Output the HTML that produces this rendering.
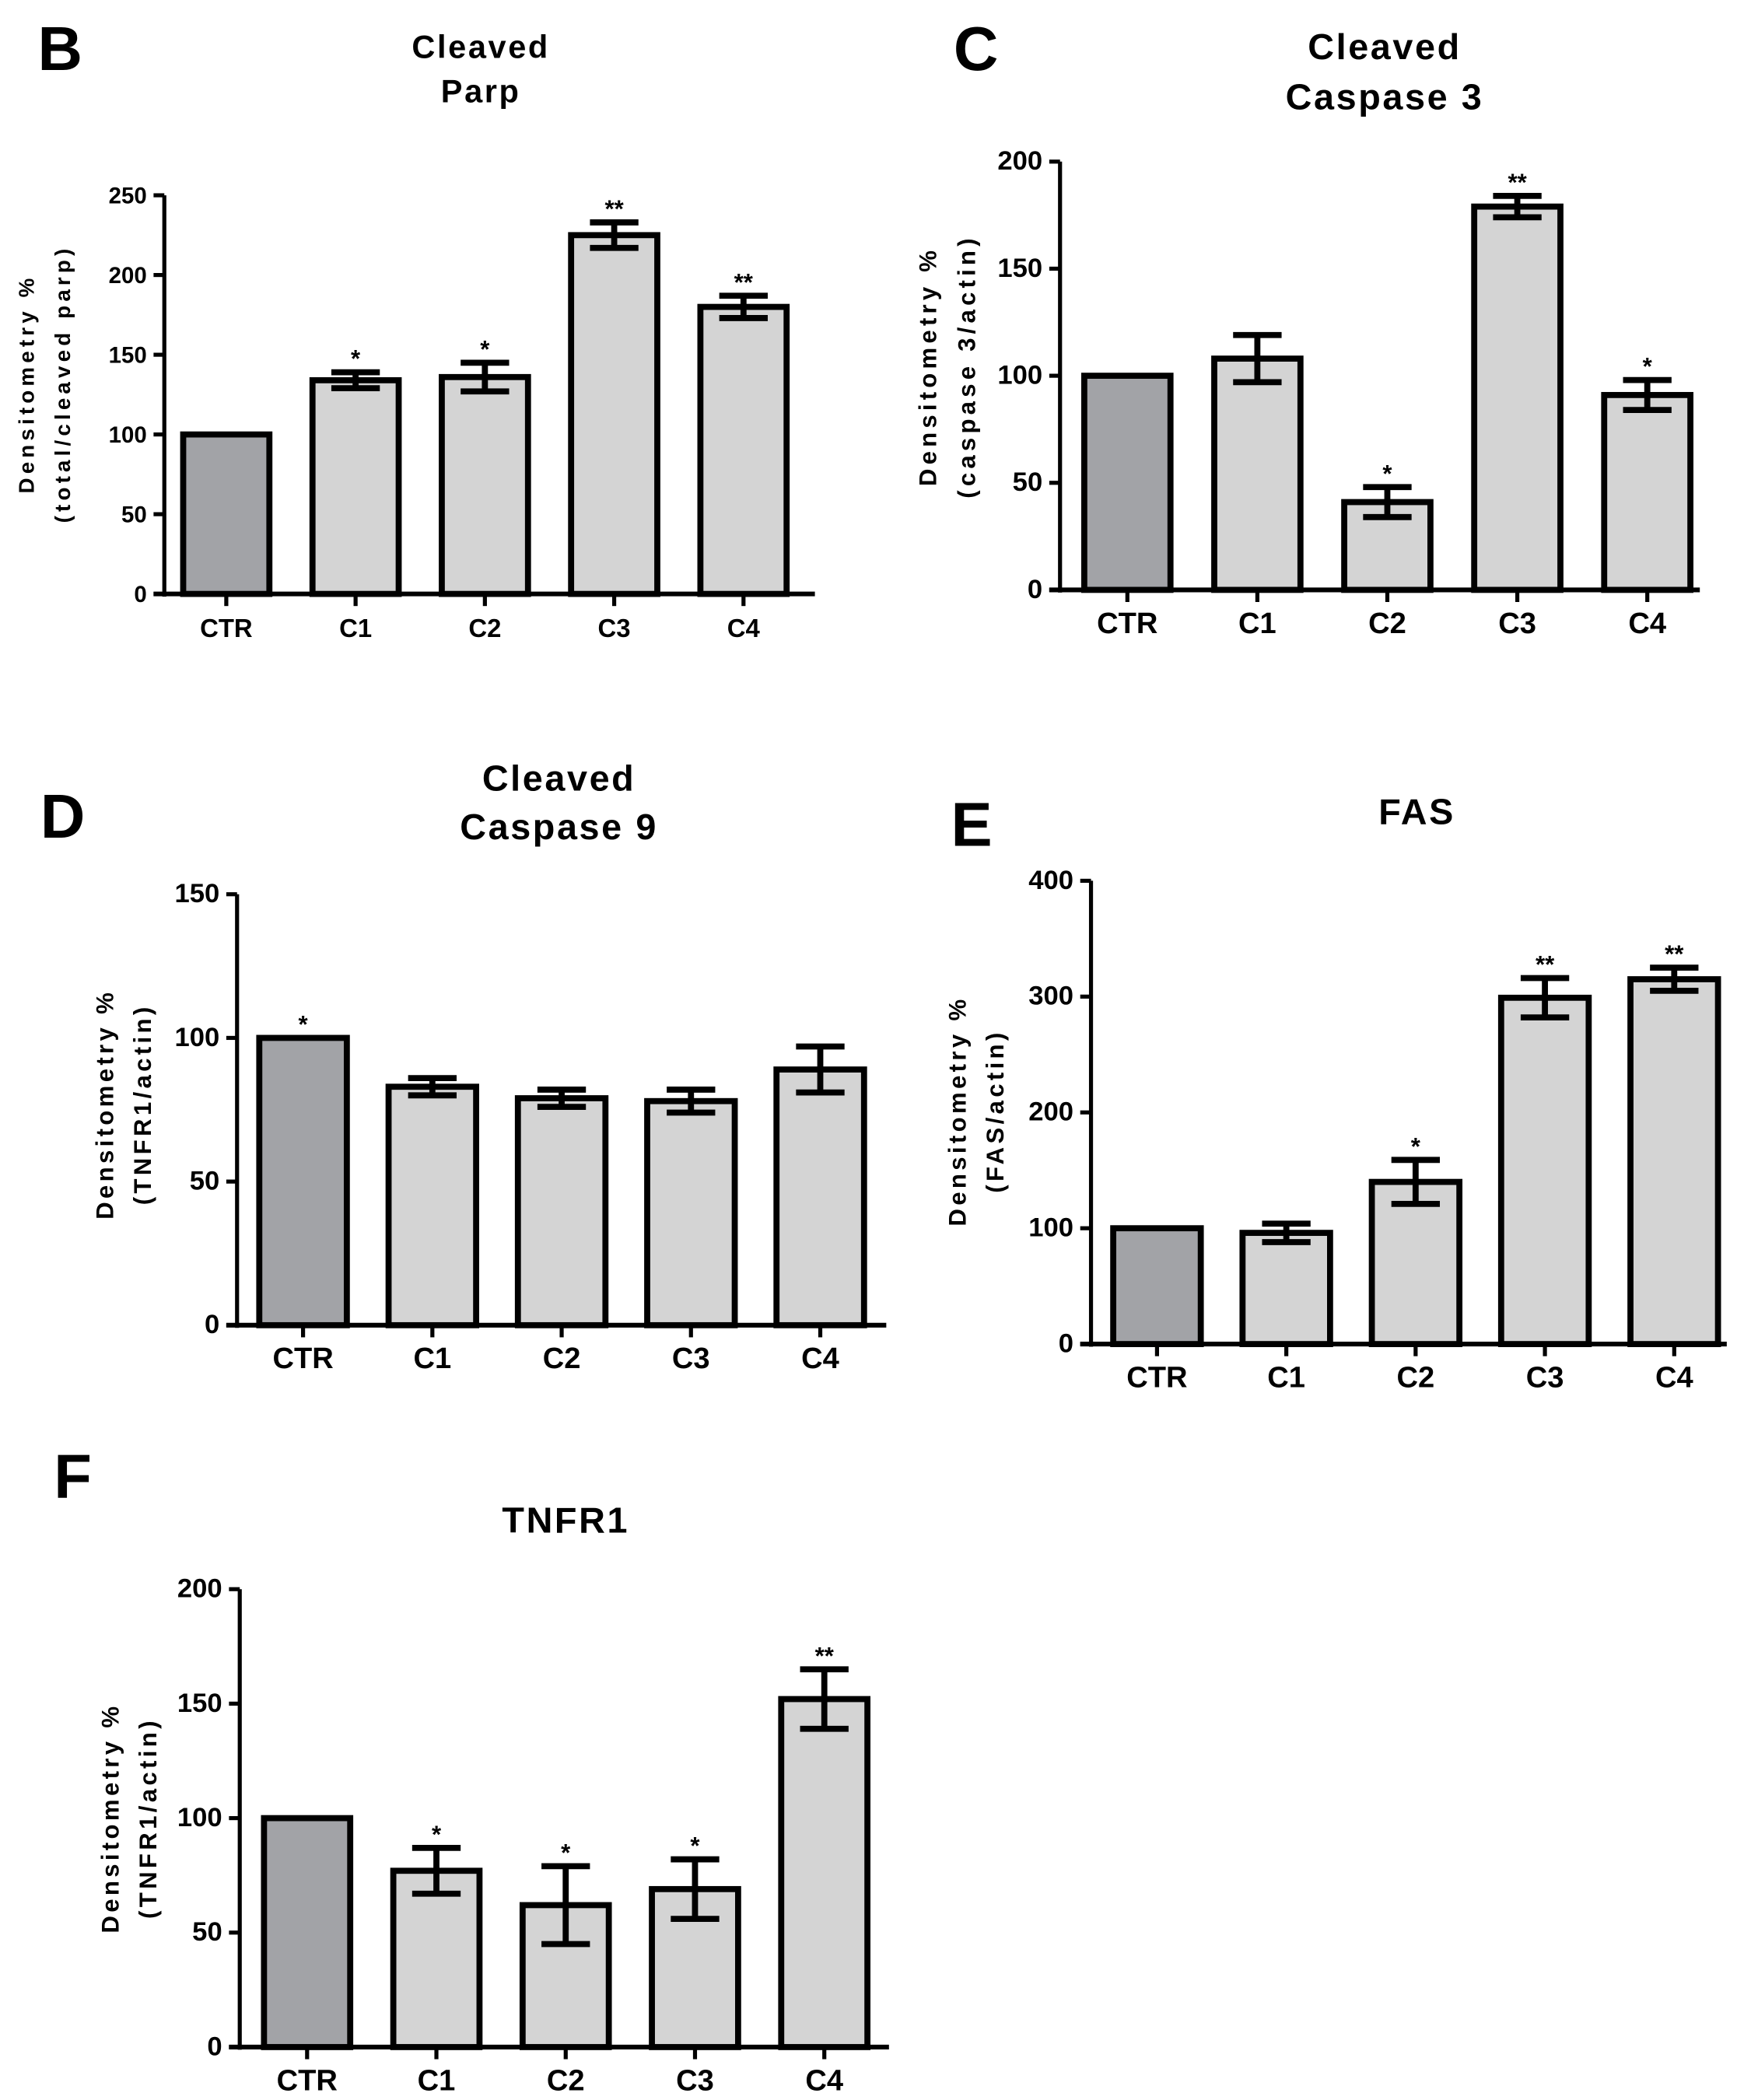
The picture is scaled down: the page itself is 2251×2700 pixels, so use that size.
<!DOCTYPE html>
<html><head><meta charset="utf-8"><style>
html,body{margin:0;padding:0;background:#fff;}
svg{display:block;}
text{font-family:"Liberation Sans",sans-serif;}
</style></head><body>
<svg id="fig" width="2251" height="2700" viewBox="0 0 1300 1559.3" preserveAspectRatio="none" xmlns="http://www.w3.org/2000/svg"></svg>
<script>
const categories = ["CTR","C1","C2","C3","C4"];
const parpValues = [100,134,136,225,180];
const parpErrors = [0,5,9,8,7];
const parpStars = ["","*","*","**","**"];
const parpTicks = [0,50,100,150,200,250];
const cas3Values = [100,108,41,179,91];
const cas3Errors = [0,11,7,5,7];
const cas3Stars = ["","","*","**","*"];
const cas3Ticks = [0,50,100,150,200];
const cas9Values = [100,83,79,78,89];
const cas9Errors = [0,3,3,4,8];
const cas9Stars = ["*","","","",""];
const cas9Ticks = [0,50,100,150];
const fasValues = [100,96,140,299,315];
const fasErrors = [0,8,19,17,10];
const fasStars = ["","","*","**","**"];
const fasTicks = [0,100,200,300,400];
const tnfValues = [100,77,62,69,152];
const tnfErrors = [0,10,17,13,13];
const tnfStars = ["","*","*","*","**"];
const tnfTicks = [0,50,100,150,200];

const NS="http://www.w3.org/2000/svg";
const svg=document.getElementById('fig');
function mk(tag,attrs,parent){const e=document.createElementNS(NS,tag);for(const k in attrs)e.setAttribute(k,attrs[k]);(parent||svg).appendChild(e);return e;}

function panel(p){
  const g=mk('g',{});
  
  
  const ymax=p.ticks[p.ticks.length-1];
  const yScale=v=>p.y0-(v/ymax)*(p.y0-p.yTop);
  const step=p.step;
  const xCenter=i=>p.ax+p.first+i*step;
  let t=mk('text',{x:p.lx,y:p.ly,'font-size':46,'font-weight':'bold'},g);t.textContent=p.letter;
  
  
  p.title.forEach((s,i)=>{const tt=mk('text',{x:p.tx,y:p.ty+i*p.tl,'font-size':p.tfs,'font-weight':'bold','text-anchor':'middle','letter-spacing':1.5},g);tt.textContent=s;
    
    });
  p.ytitle.forEach((s,i)=>{const xx=p.ytx[i];const tt=mk('text',{x:xx,y:p.yty,'font-size':p.ytfs,'font-weight':'bold','text-anchor':'middle','letter-spacing':p.yls,transform:`rotate(-90 ${xx} ${p.yty})`},g);tt.textContent=s;
    
    });
  categories.forEach((c,i)=>{
    const v=p.values[i],cx=xCenter(i),w=p.bw;
    const r=mk('rect',{x:cx-w/2,y:yScale(v),width:w,height:p.y0-yScale(v),fill:i==0?'#a2a3a7':'#d4d4d4',stroke:'#000','stroke-width':4.5},g);
    
    
    const e=p.errors[i];
    if(e>0){
      const eg=mk('g',{stroke:'#000','stroke-width':4.5},g);
      
      
      mk('line',{x1:cx,x2:cx,y1:yScale(v+e),y2:yScale(v-e)},eg);
      mk('line',{x1:cx-18,x2:cx+18,y1:yScale(v+e),y2:yScale(v+e)},eg);
      mk('line',{x1:cx-18,x2:cx+18,y1:yScale(v-e),y2:yScale(v-e)},eg);
    }
    if(p.stars[i]){const st=mk('text',{x:cx,y:yScale(v+e)-4,'font-size':18,'font-weight':'bold','text-anchor':'middle'},g);st.textContent=p.stars[i];
      
      }
    mk('line',{x1:cx,x2:cx,y1:p.y0,y2:p.y0+9,stroke:'#000','stroke-width':3},g);
    const xl=mk('text',{x:cx,y:p.y0+32,'font-size':p.xfs,'font-weight':'bold','text-anchor':'middle'},g);xl.textContent=c;
    
    
  });
  const ya=mk('line',{x1:p.ax,x2:p.ax,y1:p.yTop,y2:p.y0+2,stroke:'#000','stroke-width':3},g);
  
  
  const xa=mk('line',{x1:p.ax-8,x2:p.axEnd,y1:p.y0,y2:p.y0,stroke:'#000','stroke-width':3.5},g);
  
  
  p.ticks.forEach(v=>{const y=yScale(v);mk('line',{x1:p.ax-8,x2:p.ax,y1:y,y2:y,stroke:'#000','stroke-width':3},g);
    const tl=mk('text',{x:p.ax-13,y:y+6,'font-size':p.yfs,'font-weight':'bold','text-anchor':'end'},g);tl.textContent=v;
    
    });
}

panel({name:'panel-b-cleaved-parp',letter:'B',lx:28,ly:52,title:['Cleaved','Parp'],tx:357,ty:43,tl:33,tfs:24,
  ytitle:['Densitometry %','(total/cleaved parp)'],ytx:[25,52],yty:285,ytfs:16,yls:3,
  ax:122,axEnd:605,y0:441,yTop:145,first:46,step:96,bw:64,ticks:parpTicks,values:parpValues,errors:parpErrors,stars:parpStars,yfs:17,xfs:19});
panel({name:'panel-c-cleaved-caspase3',letter:'C',lx:708,ly:52,title:['Cleaved','Caspase 3'],tx:1028,ty:44,tl:37,tfs:27,
  ytitle:['Densitometry %','(caspase 3/actin)'],ytx:[695,724],yty:272,ytfs:18,yls:3,
  ax:787,axEnd:1262,y0:438,yTop:120,first:50,step:96.5,bw:64,ticks:cas3Ticks,values:cas3Values,errors:cas3Errors,stars:cas3Stars,yfs:20,xfs:22});
panel({name:'panel-d-cleaved-caspase9',letter:'D',lx:30,ly:622,title:['Cleaved','Caspase 9'],tx:415,ty:587,tl:36,tfs:27,
  ytitle:['Densitometry %','(TNFR1/actin)'],ytx:[84,112],yty:820,ytfs:18,yls:2.5,
  ax:176,axEnd:658,y0:984,yTop:664,first:49,step:96,bw:65,ticks:cas9Ticks,values:cas9Values,errors:cas9Errors,stars:cas9Stars,yfs:20,xfs:22});
panel({name:'panel-e-fas',letter:'E',lx:706,ly:628,title:['FAS'],tx:1052,ty:612,tl:36,tfs:27,
  ytitle:['Densitometry %','(FAS/actin)'],ytx:[717,745],yty:825,ytfs:18,yls:2.5,
  ax:810,axEnd:1282,y0:998,yTop:654,first:49,step:96,bw:65,ticks:fasTicks,values:fasValues,errors:fasErrors,stars:fasStars,yfs:20,xfs:22});
panel({name:'panel-f-tnfr1',letter:'F',lx:40,ly:1112,title:['TNFR1'],tx:420,ty:1138,tl:36,tfs:27,
  ytitle:['Densitometry %','(TNFR1/actin)'],ytx:[88,116],yty:1350,ytfs:18,yls:2.5,
  ax:178,axEnd:660,y0:1520,yTop:1180,first:50,step:96,bw:64,ticks:tnfTicks,values:tnfValues,errors:tnfErrors,stars:tnfStars,yfs:20,xfs:22});
</script>
</body></html>
